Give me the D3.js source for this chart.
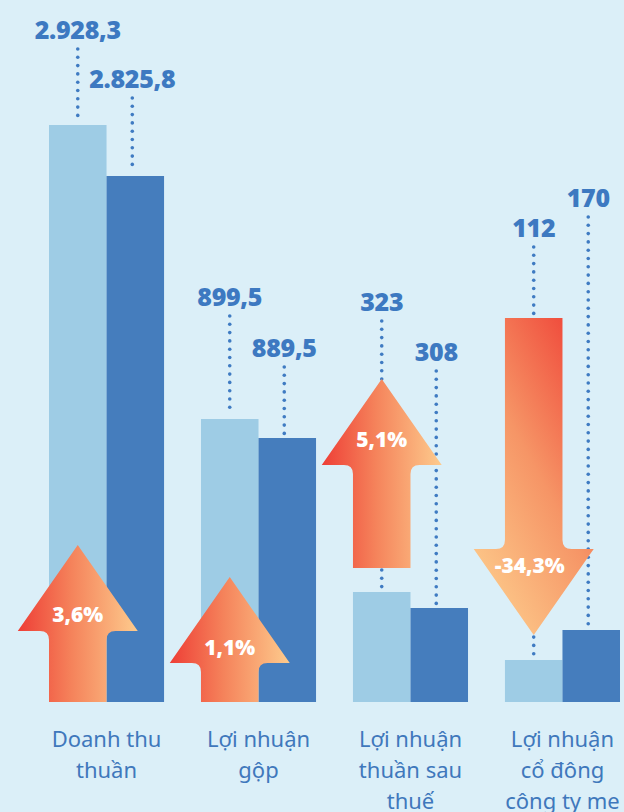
<!DOCTYPE html>
<html>
<head>
<meta charset="utf-8">
<script src="https://cdn.jsdelivr.net/npm/d3@7"></script>
<style>
  body { margin: 0; background: #dbeff8; }
  svg { display: block; }
</style>
</head>
<body>
<div id="canvas"></div>
<script>
"use strict"

/* ---------- DATA ---------- */
let categories = [
  ["Doanh thu", "thuần"],
  ["Lợi nhuận", "gộp"],
  ["Lợi nhuận", "thuần sau", "thuế"],
  ["Lợi nhuận", "cổ đông", "công ty me"]
];
let prevValues = [2928.3, 899.5, 323, 112];   // light bars
let currValues = [2825.8, 889.5, 308, 170];   // dark bars
let changes = [3.6, 1.1, 5.1, -34.3];         // % shown in the arrows

/* ---------- LAYOUT ---------- */
let width = 624, height = 812;
let baseline = 702;

let drawing = d3.select("#canvas")
  .append("svg")
  .attr("width", width)
  .attr("height", height);

drawing.append("rect")
  .attr("width", width).attr("height", height)
  .attr("fill", "#dbeff8");

/* vietnamese number format: 2.928,3 */
let vi = d3.formatLocale({ decimal: ",", thousands: ".", grouping: [3], currency: ["", ""], minus: "-" });
let fmtValue = v => (v % 1 ? vi.format(",.1f")(v) : vi.format(",d")(v));
let fmtPct = v => vi.format(".1f")(v) + "%";

/* groups */
let x = d3.scaleBand()
  .domain(d3.range(categories.length))
  .range([49, 620])
  .paddingInner(0.243)
  .paddingOuter(0);

let xs = d3.scaleBand()
  .domain(["prev", "curr"])
  .range([0, x.bandwidth()]);

/* the artwork's value axis is not proportional, so the scale is piecewise:
   breakpoints */
let y = d3.scaleLinear()
  .domain([0, 112, 170, 308, 323, 889.5, 899.5, 2825.8, 2928.3])
  .range([baseline, 660, 630, 608, 592, 438, 419, 176, 125]);

/* where the value labels sit (baseline y) */
let labelY = { prev: [39, 306, 311, 237], curr: [88, 357, 361, 207] };

/* arrows: tip, head base, shaft end, text baseline */
let arrowPos = [
  { tip: 545, base: 631, end: baseline, text: 622 },
  { tip: 577, base: 663, end: baseline, text: 655 },
  { tip: 379, base: 465, end: 568, text: 447 },
  { tip: 635, base: 549, end: 318, text: 573 }
];

let colors = { prev: "#9ecce5", curr: "#457dbd", label: "#3d79c1", dot: "#3f7bc2", cat: "#3f78bc" };

/* rows for both series */
let bars = [];
categories.forEach((c, i) => {
  bars.push({ i: i, key: "prev", value: prevValues[i] });
  bars.push({ i: i, key: "curr", value: currValues[i] });
});
let barCx = d => x(d.i) + xs(d.key) + xs.bandwidth() / 2 - (d.key === "curr" ? 3 : 0);

/* ---------- BARS ---------- */
drawing.append("g").selectAll("rect")
  .data(bars)
  .join("rect")
  .attr("x", d => x(d.i) + xs(d.key))
  .attr("y", d => y(d.value))
  .attr("width", xs.bandwidth())
  .attr("height", d => baseline - y(d.value))
  .attr("fill", d => colors[d.key]);

/* ---------- DOTTED LEADERS ---------- */
let dotG = drawing.append("g");
bars.forEach(d => {
  let top = labelY[d.key][d.i] + 10;
  let bottom = y(d.value) - 4;
  dotG.selectAll(null)
    .data(d3.range(top, bottom, 8.3))
    .join("circle")
    .attr("cx", barCx(d))
    .attr("cy", v => v)
    .attr("r", 1.8)
    .attr("fill", colors.dot);
});

/* ---------- VALUE LABELS ---------- */
drawing.append("g").selectAll("text")
  .data(bars)
  .join("text")
  .attr("x", d => barCx(d))
  .attr("y", d => labelY[d.key][d.i])
  .attr("text-anchor", "middle")
  .attr("font-family", "'Open Sans', sans-serif")
  .attr("font-weight", 800)
  .attr("font-size", 25)
  .attr("letter-spacing", -0.3)
  .attr("fill", colors.label)
  .text(d => fmtValue(d.value));

/* ---------- ARROWS ---------- */
let defs = drawing.append("defs");
let gUp = defs.append("linearGradient").attr("id", "gradUp")
  .attr("x1", 0).attr("y1", 0).attr("x2", 1).attr("y2", 0);
gUp.append("stop").attr("offset", 0).attr("stop-color", "#ee3e36");
gUp.append("stop").attr("offset", 0.45).attr("stop-color", "#f5835b");
gUp.append("stop").attr("offset", 1).attr("stop-color", "#fdcb8d");

let gDown = defs.append("linearGradient").attr("id", "gradDown")
  .attr("x1", 0.9).attr("y1", 0).attr("x2", 0.2).attr("y2", 1);
gDown.append("stop").attr("offset", 0).attr("stop-color", "#ef4136");
gDown.append("stop").attr("offset", 0.5).attr("stop-color", "#f69566");
gDown.append("stop").attr("offset", 1).attr("stop-color", "#fdcc8c");

let headHalf = 60, shaftHalf = xs.bandwidth() / 2, r = 9;

function arrowPath(cx, a) {
  let s = a.tip < a.base ? 1 : -1;   // 1 = up, -1 = down
  let p = d3.path();
  p.moveTo(cx, a.tip);
  p.lineTo(cx + headHalf, a.base);
  p.lineTo(cx + shaftHalf + r, a.base);
  p.quadraticCurveTo(cx + shaftHalf, a.base, cx + shaftHalf, a.base + s * r);
  p.lineTo(cx + shaftHalf, a.end);
  p.lineTo(cx - shaftHalf, a.end);
  p.lineTo(cx - shaftHalf, a.base + s * r);
  p.quadraticCurveTo(cx - shaftHalf, a.base, cx - shaftHalf - r, a.base);
  p.lineTo(cx - headHalf, a.base);
  p.closePath();
  return p.toString();
}

let arrowG = drawing.append("g");
changes.forEach((c, i) => {
  let cx = x(i) + xs("prev") + xs.bandwidth() / 2;
  let a = arrowPos[i];
  arrowG.append("path")
    .attr("d", arrowPath(cx, a))
    .attr("fill", c >= 0 ? "url(#gradUp)" : "url(#gradDown)");
  arrowG.append("text")
    .attr("x", cx - (c < 0 ? 4 : 0))
    .attr("y", a.text)
    .attr("text-anchor", "middle")
    .attr("font-family", "'Open Sans', sans-serif")
    .attr("font-weight", 800)
    .attr("font-size", 21)
    .attr("fill", "white")
    .text(fmtPct(c));
});

/* ---------- CATEGORY LABELS ---------- */
let catG = drawing.append("g");
categories.forEach((lines, i) => {
  catG.append("text")
    .attr("x", x(i) + x.bandwidth() / 2)
    .attr("y", 747)
    .attr("text-anchor", "middle")
    .attr("font-family", "'Noto Sans', sans-serif")
    .attr("font-size", 22)
    .attr("fill", colors.cat)
    .selectAll("tspan")
    .data(lines)
    .join("tspan")
    .attr("x", x(i) + x.bandwidth() / 2)
    .attr("dy", (d, k) => (k === 0 ? 0 : 31))
    .text(d => d);
});
</script>
</body>
</html>
